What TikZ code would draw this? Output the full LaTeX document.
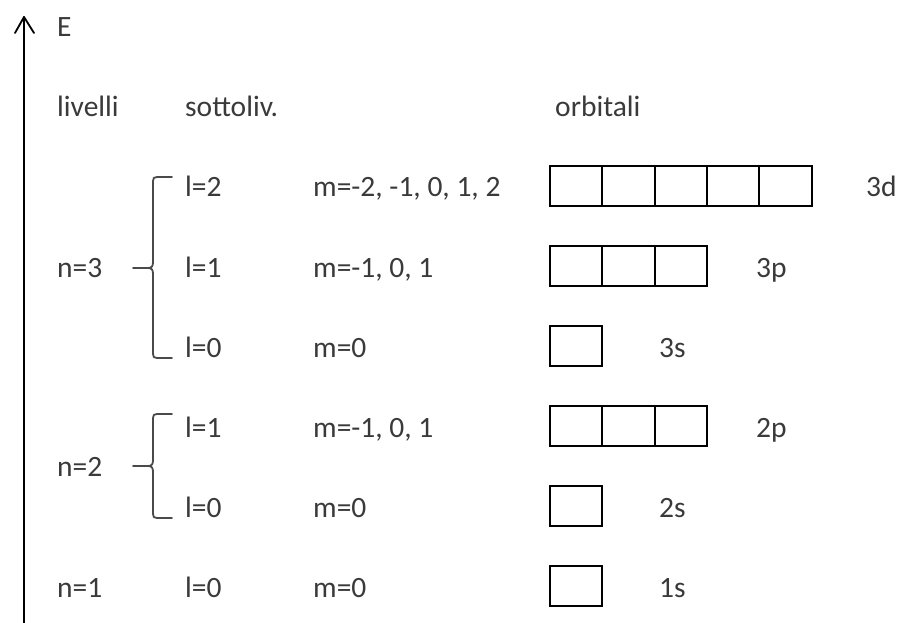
\documentclass[tikz,border=0pt]{standalone}
\usepackage{fontspec}
\setmainfont{Carlito}
\definecolor{txt}{HTML}{3A3A3A}
\definecolor{brc}{HTML}{4A4A4A}
\begin{document}
\begin{tikzpicture}[x=1pt,y=-1pt,
  lbl/.style={anchor=base west,inner sep=0pt,text=txt,font=\fontsize{29.5}{35}\selectfont},
  cellbox/.style={draw=black,line width=2pt,minimum width=52.3pt,minimum height=40pt,inner sep=0pt,anchor=north west},
  bracel/.style={draw=brc,line width=1.8pt,line cap=round,line join=round},
  axisline/.style={draw=black,line width=1.8pt,line cap=round,line join=round}]
\useasboundingbox (0,0) rectangle (898,623);
% energy axis
\coordinate (top) at (24,17);
\coordinate (bot) at (24,623);
\coordinate (wl) at (15,33);
\coordinate (wr) at (34,33);
\draw[axisline] (bot) -- (top);
\draw[axisline] (wl) -- (top) -- (wr);
\node[lbl] (E) at (57,37) {E};
% headers
\node[lbl] (hliv) at (57,117) {livelli};
\node[lbl] (hsot) at (185,117) {sottoliv.};
\node[lbl] (horb) at (555,117) {orbitali};
% levels
\node[lbl] (n3) at (57,277) {n=3};
\node[lbl] (n2) at (57,476) {n=2};
\node[lbl] (n1) at (57,597) {n=1};
% braces
\draw[bracel] (172,177) -- (157,177) .. controls (154,177) and (153,178) .. (153,181) -- (153,262) .. controls (153,266) and (152,268) .. (148,268) -- (133,268);
\draw[bracel] (148,268) .. controls (152,268) and (153,270) .. (153,274) -- (153,354) .. controls (153,357) and (154,358) .. (157,358) -- (172,358);
\draw[bracel] (172,414) -- (157,414) .. controls (154,414) and (153,415) .. (153,418) -- (153,460) .. controls (153,464) and (152,466) .. (148,466) -- (133,466);
\draw[bracel] (148,466) .. controls (152,466) and (153,468) .. (153,472) -- (153,514) .. controls (153,517) and (154,518) .. (157,518) -- (172,518);
% sublevels
\node[lbl] (l32) at (185,197) {l=2};
\node[lbl] (l31) at (185,277) {l=1};
\node[lbl] (l30) at (185,357) {l=0};
\node[lbl] (l21) at (185,437) {l=1};
\node[lbl] (l20) at (185,517) {l=0};
\node[lbl] (l10) at (185,597) {l=0};
% m values
\node[lbl] (m32) at (313,197) {m=-2, -1, 0, 1, 2};
\node[lbl] (m31) at (313,277) {m=-1, 0, 1};
\node[lbl] (m30) at (313,357) {m=0};
\node[lbl] (m21) at (313,437) {m=-1, 0, 1};
\node[lbl] (m20) at (313,517) {m=0};
\node[lbl] (m10) at (313,597) {m=0};
% orbital boxes
\foreach \i in {0,...,4} \node[cellbox] (d\i) at (549+52.3*\i,165) {};
\foreach \i in {0,...,2} \node[cellbox] (p\i) at (549+52.3*\i,245) {};
\node[cellbox] (s3) at (549,325) {};
\foreach \i in {0,...,2} \node[cellbox] (q\i) at (549+52.3*\i,405) {};
\node[cellbox] (s2) at (549,485) {};
\node[cellbox] (s1) at (549,565) {};
% orbital labels
\node[lbl] (t3d) at (866,197) {3d};
\node[lbl] (t3p) at (756,277) {3p};
\node[lbl] (t3s) at (659,357) {3s};
\node[lbl] (t2p) at (756,437) {2p};
\node[lbl] (t2s) at (659,517) {2s};
\node[lbl] (t1s) at (659,597) {1s};
\end{tikzpicture}
\end{document}
